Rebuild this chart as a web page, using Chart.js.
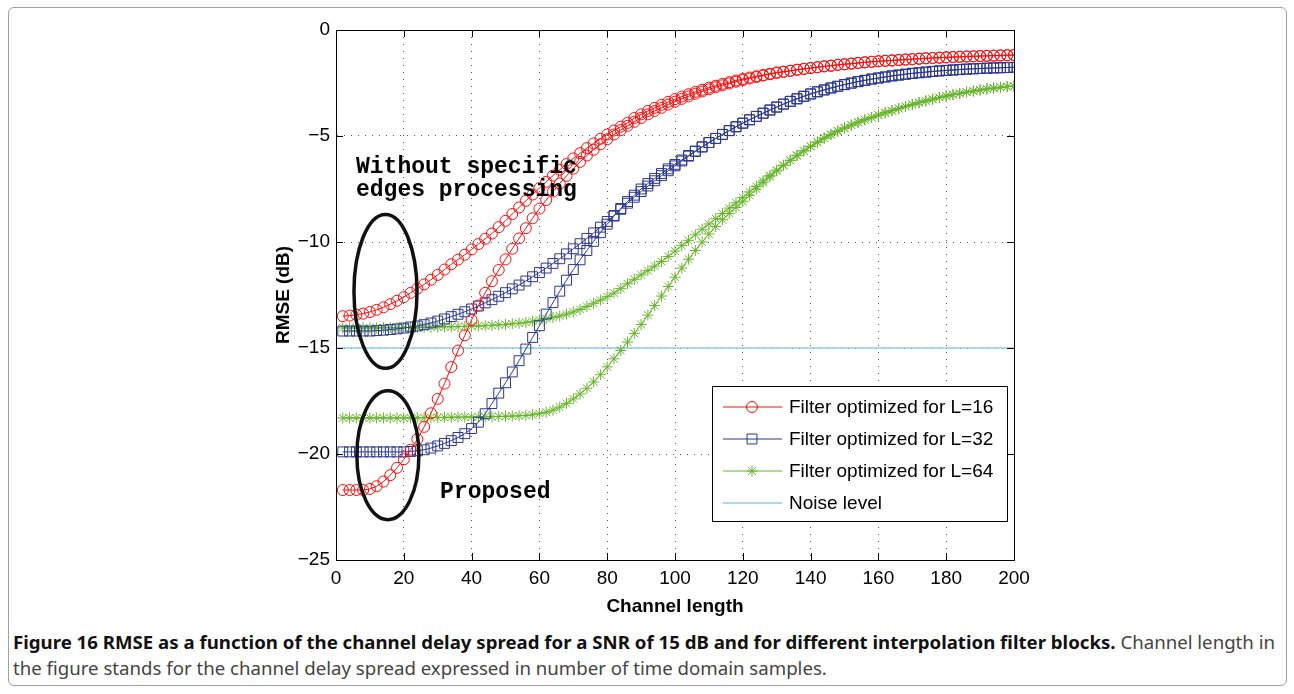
<!DOCTYPE html>
<html>
<head>
<meta charset="utf-8">
<script src="https://cdn.jsdelivr.net/npm/chart.js@4.4.1/dist/chart.umd.min.js"></script>
<style>
  body { margin: 0; background: #fff; width: 1294px; height: 694px; position: relative; overflow: hidden; }
  #frame { position: absolute; left: 8px; top: 7px; width: 1277px; height: 677px; border: 1px solid #a0a0a0; border-radius: 6px; }
  #chart { position: absolute; left: 0; top: 0; }
  #caption { position: absolute; left: 13px; top: 629px; font-family: "Noto Sans", sans-serif; font-size: 18px; line-height: 26px; white-space: nowrap; transform-origin: 0 0; color: #444; }
  #caption b { color: #111; }
</style>
</head>
<body>
<div id="frame"></div>
<canvas id="chart" width="1294" height="622"></canvas>
<div id="caption">
  <div><span id="capLine1"><b>Figure 16 RMSE as a function of the channel delay spread for a SNR of 15 dB and for different interpolation filter blocks.</b> Channel length in</span></div>
  <div>the figure stands for the channel delay spread expressed in number of time domain samples.</div>
</div>
<script>
// channel length (x), every 2 samples
const channelLen = [
  2, 4, 6, 8, 10, 12, 14, 16, 18, 20,
  22, 24, 26, 28, 30, 32, 34, 36, 38, 40,
  42, 44, 46, 48, 50, 52, 54, 56, 58, 60,
  62, 64, 66, 68, 70, 72, 74, 76, 78, 80,
  82, 84, 86, 88, 90, 92, 94, 96, 98, 100,
  102, 104, 106, 108, 110, 112, 114, 116, 118, 120,
  122, 124, 126, 128, 130, 132, 134, 136, 138, 140,
  142, 144, 146, 148, 150, 152, 154, 156, 158, 160,
  162, 164, 166, 168, 170, 172, 174, 176, 178, 180,
  182, 184, 186, 188, 190, 192, 194, 196, 198, 200
];

// RMSE (dB)
const l16Without = [
  -13.5, -13.47, -13.43, -13.38, -13.3, -13.2, -13.08, -12.93, -12.77, -12.6,
  -12.4, -12.2, -12.0, -11.78, -11.55, -11.3, -11.05, -10.83, -10.6, -10.35,
  -10.1, -9.85, -9.6, -9.3, -9.0, -8.68, -8.37, -8.06, -7.76, -7.46,
  -7.16, -6.87, -6.59, -6.32, -6.06, -5.81, -5.57, -5.35, -5.13, -4.93,
  -4.74, -4.56, -4.38, -4.15, -3.98, -3.82, -3.67, -3.53, -3.39, -3.26,
  -3.14, -3.03, -2.92, -2.82, -2.72, -2.63, -2.54, -2.46, -2.38, -2.31,
  -2.24, -2.18, -2.12, -2.06, -2.0, -1.96, -1.92, -1.87, -1.83, -1.79,
  -1.75, -1.71, -1.68, -1.64, -1.61, -1.58, -1.55, -1.52, -1.5, -1.47,
  -1.45, -1.43, -1.41, -1.39, -1.37, -1.35, -1.33, -1.32, -1.3, -1.29,
  -1.27, -1.26, -1.25, -1.24, -1.23, -1.22, -1.21, -1.2, -1.19, -1.18
];
const l16Proposed = [
  -21.7, -21.7, -21.7, -21.7, -21.65, -21.52, -21.3, -21.0, -20.65, -20.25,
  -19.8, -19.3, -18.72, -18.08, -17.4, -16.68, -15.9, -15.12, -14.4, -13.68,
  -13.0, -12.4, -11.85, -11.32, -10.82, -10.32, -9.83, -9.35, -8.88, -8.43,
  -8.02, -7.62, -7.24, -6.88, -6.54, -6.22, -5.92, -5.65, -5.39, -5.15,
  -4.93, -4.72, -4.52, -4.33, -4.15, -3.98, -3.82, -3.67, -3.52, -3.38,
  -3.25, -3.13, -3.01, -2.9, -2.8, -2.7, -2.61, -2.52, -2.44, -2.36,
  -2.29, -2.22, -2.15, -2.09, -2.03, -1.98, -1.93, -1.88, -1.84, -1.8,
  -1.76, -1.72, -1.69, -1.65, -1.62, -1.59, -1.56, -1.53, -1.5, -1.48,
  -1.46, -1.44, -1.42, -1.4, -1.38, -1.36, -1.34, -1.32, -1.31, -1.29,
  -1.28, -1.27, -1.25, -1.24, -1.23, -1.22, -1.21, -1.2, -1.19, -1.18
];
const l32Without = [
  -14.2, -14.2, -14.2, -14.2, -14.2, -14.18, -14.16, -14.13, -14.1, -14.06,
  -14.01, -13.96, -13.9, -13.82, -13.73, -13.63, -13.52, -13.41, -13.29, -13.16,
  -13.02, -12.87, -12.72, -12.56, -12.39, -12.21, -12.03, -11.84, -11.64, -11.44,
  -11.23, -11.01, -10.79, -10.56, -10.32, -10.08, -9.83, -9.57, -9.3, -9.03,
  -8.75, -8.46, -8.17, -7.89, -7.62, -7.36, -7.11, -6.87, -6.64, -6.41,
  -6.18, -5.95, -5.73, -5.52, -5.31, -5.11, -4.92, -4.74, -4.56, -4.39,
  -4.23, -4.07, -3.92, -3.77, -3.63, -3.49, -3.36, -3.24, -3.12, -3.01,
  -2.91, -2.82, -2.73, -2.65, -2.57, -2.5, -2.43, -2.37, -2.31, -2.26,
  -2.21, -2.16, -2.12, -2.08, -2.04, -2.01, -1.98, -1.95, -1.93, -1.9,
  -1.88, -1.86, -1.84, -1.83, -1.81, -1.8, -1.79, -1.78, -1.77, -1.76
];
const l32Proposed = [
  -19.9, -19.9, -19.9, -19.9, -19.9, -19.9, -19.9, -19.9, -19.9, -19.9,
  -19.88, -19.85, -19.8, -19.72, -19.62, -19.5, -19.37, -19.22, -19.04, -18.8,
  -18.5, -18.1, -17.62, -17.13, -16.64, -16.13, -15.6, -15.05, -14.5, -13.95,
  -13.4, -12.86, -12.32, -11.8, -11.3, -10.84, -10.4, -9.97, -9.56, -9.16,
  -8.78, -8.42, -8.09, -7.79, -7.5, -7.24, -7.0, -6.77, -6.55, -6.34,
  -6.13, -5.92, -5.71, -5.51, -5.31, -5.12, -4.93, -4.75, -4.57, -4.4,
  -4.24, -4.08, -3.93, -3.78, -3.64, -3.5, -3.37, -3.25, -3.13, -3.02,
  -2.92, -2.83, -2.74, -2.66, -2.58, -2.51, -2.44, -2.38, -2.32, -2.27,
  -2.22, -2.17, -2.13, -2.09, -2.05, -2.02, -1.99, -1.96, -1.93, -1.91,
  -1.89, -1.87, -1.85, -1.83, -1.82, -1.8, -1.79, -1.78, -1.77, -1.76
];
const l64Without = [
  -14.05, -14.05, -14.05, -14.05, -14.05, -14.05, -14.04, -14.04, -14.04, -14.03,
  -14.03, -14.03, -14.02, -14.02, -14.01, -14.0, -14.0, -13.99, -13.98, -13.97,
  -13.96, -13.95, -13.93, -13.91, -13.89, -13.86, -13.83, -13.79, -13.74, -13.68,
  -13.62, -13.56, -13.49, -13.4, -13.3, -13.18, -13.04, -12.89, -12.74, -12.58,
  -12.41, -12.2, -11.97, -11.76, -11.55, -11.35, -11.14, -10.92, -10.68, -10.43,
  -10.17, -9.92, -9.66, -9.4, -9.15, -8.9, -8.65, -8.4, -8.15, -7.9,
  -7.64, -7.38, -7.12, -6.86, -6.61, -6.37, -6.14, -5.91, -5.69, -5.48,
  -5.28, -5.09, -4.92, -4.76, -4.62, -4.48, -4.35, -4.23, -4.12, -4.01,
  -3.9, -3.8, -3.7, -3.6, -3.51, -3.42, -3.34, -3.26, -3.18, -3.11,
  -3.05, -2.99, -2.93, -2.88, -2.83, -2.78, -2.74, -2.7, -2.67, -2.65
];
const l64Proposed = [
  -18.3, -18.3, -18.3, -18.3, -18.3, -18.3, -18.3, -18.3, -18.3, -18.3,
  -18.3, -18.29, -18.29, -18.28, -18.28, -18.27, -18.27, -18.26, -18.26, -18.25,
  -18.25, -18.24, -18.24, -18.23, -18.22, -18.21, -18.2, -18.18, -18.15, -18.1,
  -18.03, -17.93, -17.79, -17.61, -17.4, -17.17, -16.9, -16.6, -16.26, -15.89,
  -15.51, -15.12, -14.72, -14.31, -13.89, -13.45, -13.0, -12.55, -12.1, -11.66,
  -11.23, -10.81, -10.4, -10.0, -9.62, -9.27, -8.95, -8.65, -8.37, -8.1,
  -7.8, -7.5, -7.2, -6.92, -6.65, -6.4, -6.16, -5.93, -5.71, -5.5,
  -5.3, -5.11, -4.94, -4.78, -4.63, -4.49, -4.36, -4.24, -4.13, -4.02,
  -3.91, -3.81, -3.71, -3.61, -3.52, -3.43, -3.35, -3.27, -3.19, -3.12,
  -3.05, -2.99, -2.93, -2.88, -2.83, -2.78, -2.74, -2.7, -2.67, -2.65
];
const noiseX = [0, 200];
const noiseLevel = [-15, -15];

const legendLabels = ['Filter optimized for L=16', 'Filter optimized for L=32', 'Filter optimized for L=64', 'Noise level'];

const RED = '#ff0a0a', BLUE = '#2b3891', GREEN = '#68b52c', CYAN = '#8ccfe0';
const AXIS_FONT = '"Liberation Sans", Arial, sans-serif';

function pts(xs, ys) {
  return xs.map((x, i) => ({ x: x, y: ys[i] }));
}

function series(data, color, style, radius) {
  return {
    data: data,
    borderColor: color,
    borderWidth: 1,
    pointStyle: style,
    pointRadius: radius,
    pointBorderColor: color,
    pointBackgroundColor: 'rgba(0,0,0,0)',
    pointBorderWidth: 1,
    tension: 0
  };
}

// ellipses and notes, in data units
const ellipses = [
  { cx: 14.6, cy: -12.33, rx: 9.3, ry: 3.63 },
  { cx: 15.3, cy: -20.06, rx: 9.15, ry: 3.04 }
];
const notes = [
  { text: 'Without specific', x: 5.9, y: -6.74 },
  { text: 'edges processing', x: 5.9, y: -7.84 },
  { text: 'Proposed', x: 30.7, y: -22.07 }
];

const frameTicks = {
  id: 'frameTicks',
  afterDraw(chart) {
    const { ctx, chartArea: a, scales: { x, y } } = chart;
    ctx.save();
    ctx.strokeStyle = '#000';
    ctx.lineWidth = 1;
    ctx.strokeRect(a.left + 0.5, a.top + 0.5, a.right - a.left, a.bottom - a.top);
    ctx.beginPath();
    x.ticks.forEach(t => {
      const px = Math.round(x.getPixelForValue(t.value)) + 0.5;
      ctx.moveTo(px, a.bottom); ctx.lineTo(px, a.bottom - 7);
      ctx.moveTo(px, a.top); ctx.lineTo(px, a.top + 7);
    });
    y.ticks.forEach(t => {
      const py = Math.round(y.getPixelForValue(t.value)) + 0.5;
      ctx.moveTo(a.left, py); ctx.lineTo(a.left + 7, py);
      ctx.moveTo(a.right, py); ctx.lineTo(a.right - 7, py);
    });
    ctx.stroke();
    ctx.restore();
  }
};

const notesPlugin = {
  id: 'notes',
  afterDatasetsDraw(chart) {
    const { ctx, scales: { x, y } } = chart;
    ctx.save();
    ctx.strokeStyle = '#111';
    ctx.lineWidth = 3.5;
    ellipses.forEach(e => {
      const cx = x.getPixelForValue(e.cx), cy = y.getPixelForValue(e.cy);
      const rx = x.getPixelForValue(e.cx + e.rx) - cx;
      const ry = cy - y.getPixelForValue(e.cy + e.ry);
      ctx.beginPath();
      ctx.ellipse(cx, cy, rx, ry, 0, 0, Math.PI * 2);
      ctx.stroke();
    });
    ctx.fillStyle = '#000';
    ctx.font = 'bold 23px "Liberation Mono", "Courier New", monospace';
    ctx.textBaseline = 'alphabetic';
    notes.forEach(n => {
      ctx.fillText(n.text, x.getPixelForValue(n.x), y.getPixelForValue(n.y));
    });
    ctx.restore();
  }
};

const lineLegend = {
  id: 'lineLegend',
  afterDraw(chart) {
    const { ctx, chartArea: a } = chart;
    const left = a.right - 302, top = a.bottom - 174;
    const items = [0, 2, 4, 6].map((di, i) => ({ ds: chart.data.datasets[di], label: legendLabels[i] }));
    ctx.save();
    ctx.fillStyle = '#fff';
    ctx.fillRect(left, top, 295, 135);
    ctx.strokeStyle = '#000';
    ctx.lineWidth = 1;
    ctx.strokeRect(left + 0.5, top + 0.5, 295, 135);
    ctx.font = '19px ' + AXIS_FONT;
    ctx.textBaseline = 'middle';
    items.forEach((it, i) => {
      const yy = top + 21 + i * 32;
      ctx.strokeStyle = it.ds.borderColor;
      ctx.lineWidth = it.ds.borderWidth;
      ctx.beginPath();
      ctx.moveTo(left + 11, yy); ctx.lineTo(left + 70, yy);
      ctx.stroke();
      if (it.ds.pointRadius > 0) {
        ctx.fillStyle = 'rgba(0,0,0,0)';
        Chart.helpers.drawPoint(ctx, { pointStyle: it.ds.pointStyle, radius: it.ds.pointRadius, borderWidth: 1, rotation: 0 }, left + 40, yy);
      }
      ctx.fillStyle = '#000';
      ctx.fillText(it.label, left + 77, yy + 1);
    });
    ctx.restore();
  }
};

const tickFmt = v => String(v).replace('-', '\u2212');

new Chart(document.getElementById('chart'), {
  type: 'line',
  data: {
    datasets: [
      series(pts(channelLen, l16Without), RED, 'circle', 5.5),
      series(pts(channelLen, l16Proposed), RED, 'circle', 5.5),
      series(pts(channelLen, l32Without), BLUE, 'rect', 7),
      series(pts(channelLen, l32Proposed), BLUE, 'rect', 7),
      series(pts(channelLen, l64Without), GREEN, 'star', 5.5),
      series(pts(channelLen, l64Proposed), GREEN, 'star', 5.5),
      Object.assign(series(pts(noiseX, noiseLevel), CYAN, 'circle', 0), { borderWidth: 1.3 })
    ]
  },
  options: {
    responsive: false,
    animation: false,
    devicePixelRatio: 1,
    layout: { padding: { left: 268, right: 280, top: 30, bottom: 0 } },
    plugins: { legend: { display: false }, tooltip: { enabled: false } },
    scales: {
      x: {
        type: 'linear', min: 0, max: 200,
        afterFit: s => { s.height = 62; },
        ticks: { stepSize: 20, padding: 7, color: '#000', font: { family: AXIS_FONT, size: 19 } },
        grid: { color: '#555', drawTicks: false },
        border: { display: true, color: '#000', dash: [1, 6] },
        title: { display: true, text: 'Channel length', color: '#000', font: { family: AXIS_FONT, size: 19, weight: 'bold' } }
      },
      y: {
        type: 'linear', min: -25, max: 0,
        afterFit: s => { s.width = 68; },
        ticks: { stepSize: 5, padding: 6, color: '#000', callback: tickFmt, font: { family: AXIS_FONT, size: 19 } },
        grid: { color: '#555', drawTicks: false },
        border: { display: true, color: '#000', dash: [1, 6] },
        title: { display: true, text: 'RMSE (dB)', color: '#000', font: { family: AXIS_FONT, size: 19, weight: 'bold' } }
      }
    }
  },
  plugins: [frameTicks, notesPlugin, lineLegend]
});

// squeeze the caption to the width of the figure
const cap = document.getElementById('caption');
const w1 = document.getElementById('capLine1').getBoundingClientRect().width;
cap.style.transform = 'scaleX(' + (1262 / w1) + ')';
</script>
</body>
</html>
